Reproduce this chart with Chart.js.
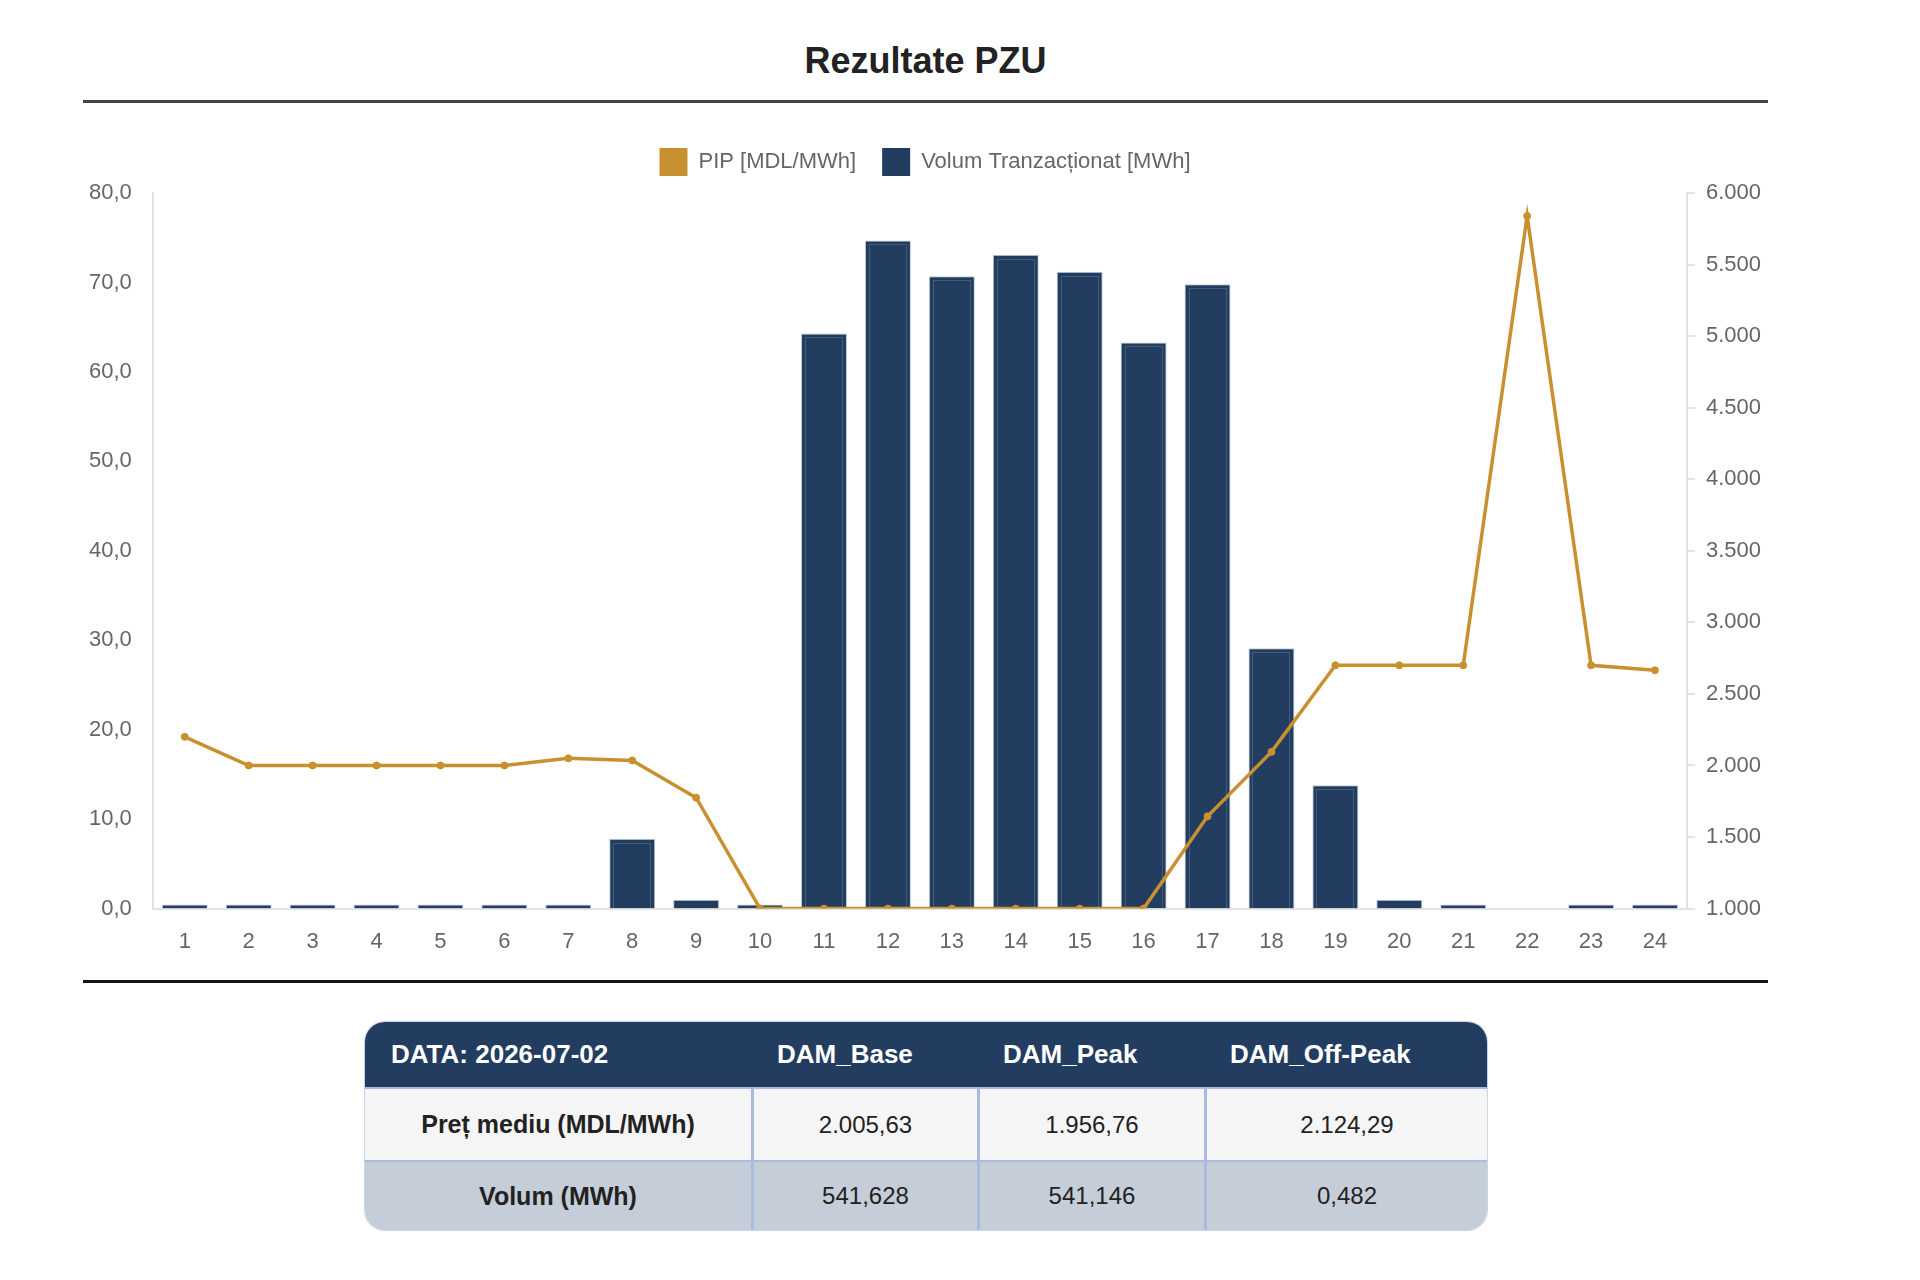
<!DOCTYPE html>
<html>
<head>
<meta charset="utf-8">
<script src="https://cdn.jsdelivr.net/npm/chart.js@4.4.1/dist/chart.umd.min.js"></script>
<style>
  html, body { margin: 0; padding: 0; background: #ffffff; }
  body { width: 1920px; height: 1280px; position: relative; font-family: "Liberation Sans", Arial, Helvetica, sans-serif; }
  #title { position: absolute; left: 83px; width: 1685px; top: 43px; text-align: center; font-size: 36px; line-height: 36px; font-weight: bold; color: #222; }
  #hr1 { position: absolute; left: 83px; width: 1685px; top: 100px; height: 3px; background: #444; }
  #chartWrap { position: absolute; left: 78px; width: 1694px; top: 122px; height: 846px; }
  #hr2 { position: absolute; left: 83px; width: 1685px; top: 980px; height: 3px; background: #151515; }
  #tbl { position: absolute; left: 365px; top: 1022px; width: 1122px; border-collapse: separate; border-spacing: 0; border-radius: 20px; overflow: hidden; font-size: 24px; box-shadow: 0 0 0 1px #c9d4e6; }
  #tbl th { background: #223d60; color: #fff; font-weight: bold; font-size: 26px; text-align: left; padding: 0 0 0 26px; height: 65px; }
  #tbl td { text-align: center; color: #222; border-top: 2px solid #a9bcdc; padding: 0; }
  #tbl td + td { border-left: 3px solid #a9bcdc; }
  #tbl tr.r1 td { background: #f5f5f5; height: 71px; }
  #tbl tr.r2 td { background: #c5ced8; height: 68px; }
  #tbl td.lbl { font-weight: bold; font-size: 25px; }
</style>
</head>
<body>
<div id="title">Rezultate PZU</div>
<div id="hr1"></div>
<div id="chartWrap"><canvas id="c"></canvas></div>
<div id="hr2"></div>
<table id="tbl"></table>
<script>
// ---- data ----
const hours = ['1','2','3','4','5','6','7','8','9','10','11','12','13','14','15','16','17','18','19','20','21','22','23','24'];
const pricePIP = [2200, 2000, 2000, 2000, 2000, 2000, 2050, 2035, 1775, 1000, 1000, 1000, 1000, 1000, 1000, 1000, 1645, 2095, 2700, 2700, 2700, 5840, 2700, 2665];
const volumeMWh = [0.06, 0.06, 0.06, 0.06, 0.06, 0.06, 0.06, 7.8, 1.0, 0.1, 64.3, 74.7, 70.7, 73.1, 71.2, 63.3, 69.8, 29.1, 13.8, 1.0, 0.1, null, 0.1, 0.06];
const seriesNames = ['PIP [MDL/MWh]', 'Volum Tranzacționat [MWh]'];
const tableHeader = ['DATA: 2026-07-02', 'DAM_Base', 'DAM_Peak', 'DAM_Off-Peak'];
const rowLabels = ['Preț mediu (MDL/MWh)', 'Volum (MWh)'];
const rowPrice = ['2.005,63', '1.956,76', '2.124,29'];
const rowVolume = ['541,628', '541,146', '0,482'];

// ---- table ----
const tbl = document.getElementById('tbl');
const colW = [386, 226, 227, 283];
let html = '<colgroup>' + colW.map(w => '<col style="width:' + w + 'px">').join('') + '</colgroup>';
html += '<tr>' + tableHeader.map(h => '<th>' + h + '</th>').join('') + '</tr>';
html += '<tr class="r1"><td class="lbl">' + rowLabels[0] + '</td>' + rowPrice.map(v => '<td>' + v + '</td>').join('') + '</tr>';
html += '<tr class="r2"><td class="lbl">' + rowLabels[1] + '</td>' + rowVolume.map(v => '<td>' + v + '</td>').join('') + '</tr>';
tbl.innerHTML = html;

// ---- chart ----
const GOLD = '#c8902f';
const NAVY = '#223d60';
const fmtThousands = v => Math.round(v).toString().replace(/\B(?=(\d{3})+(?!\d))/g, '.');

const barInset = {
  id: 'barInset',
  afterDatasetDraw(chart, args) {
    if (args.index !== 1) return;
    const ctx = chart.ctx;
    ctx.save();
    ctx.strokeStyle = 'rgba(255,255,255,0.16)';
    ctx.lineWidth = 1;
    args.meta.data.forEach(el => {
      const p = el.getProps(['x', 'y', 'base', 'width'], true);
      const h = p.base - p.y;
      if (h < 14) return;
      ctx.strokeRect(Math.round(p.x - p.width / 2) + 4.5, Math.round(p.y) + 4.5, Math.round(p.width) - 9, h - 4);
    });
    ctx.restore();
  }
};

const legendGap = {
  id: 'legendGap',
  beforeInit(chart) {
    const origFit = chart.legend.fit;
    chart.legend.fit = function () {
      origFit.bind(chart.legend)();
      this.height += 7;
    };
  }
};

Chart.defaults.font.family = '"Liberation Sans", Arial, Helvetica, sans-serif';
Chart.defaults.color = '#666';

new Chart(document.getElementById('c'), {
  data: {
    labels: hours,
    datasets: [
      {
        type: 'line',
        label: seriesNames[0],
        data: pricePIP,
        yAxisID: 'y1',
        borderColor: GOLD,
        backgroundColor: GOLD,
        borderWidth: 3.5,
        pointRadius: 3.5,
        pointBorderWidth: 1,
        pointBackgroundColor: GOLD,
        pointBorderColor: GOLD,
        tension: 0,
        fill: false
      },
      {
        type: 'bar',
        label: seriesNames[1],
        data: volumeMWh,
        yAxisID: 'y',
        backgroundColor: NAVY,
        borderColor: 'rgba(150,165,190,0.55)',
        borderWidth: 1,
        minBarLength: 4
      }
    ]
  },
  options: {
    responsive: true,
    maintainAspectRatio: false,
    animation: false,
    layout: { padding: 0 },
    plugins: {
      tooltip: { enabled: false },
      legend: {
        position: 'top',
        labels: {
          boxWidth: 28,
          boxHeight: 28,
          padding: 26,
          color: '#666',
          font: { size: 22 },
          generateLabels(chart) {
            const items = Chart.defaults.plugins.legend.labels.generateLabels(chart);
            items.forEach(it => { it.strokeStyle = it.fillStyle; it.lineWidth = 0; });
            return items;
          }
        }
      }
    },
    scales: {
      x: {
        grid: { display: false, tickLength: 8 },
        border: { display: true, color: '#e3e3e3', width: 2 },
        ticks: { font: { size: 22 }, color: '#666', padding: 12.5 }
      },
      y: {
        position: 'left',
        min: 0,
        max: 80,
        grid: { display: false, tickLength: 10 },
        border: { display: true, color: '#e3e3e3', width: 2 },
        ticks: { stepSize: 10, font: { size: 22 }, color: '#666', padding: 11,
                 callback: v => v.toFixed(1).replace('.', ',') }
      },
      y1: {
        position: 'right',
        min: 1000,
        max: 6000,
        grid: { display: true, drawOnChartArea: false, drawTicks: true, tickLength: 8, color: '#e3e3e3', lineWidth: 2 },
        border: { display: true, color: '#e3e3e3', width: 2 },
        ticks: { stepSize: 500, font: { size: 22 }, color: '#666', padding: 11,
                 callback: v => fmtThousands(v) }
      }
    }
  },
  plugins: [barInset, legendGap]
});
</script>
</body>
</html>
